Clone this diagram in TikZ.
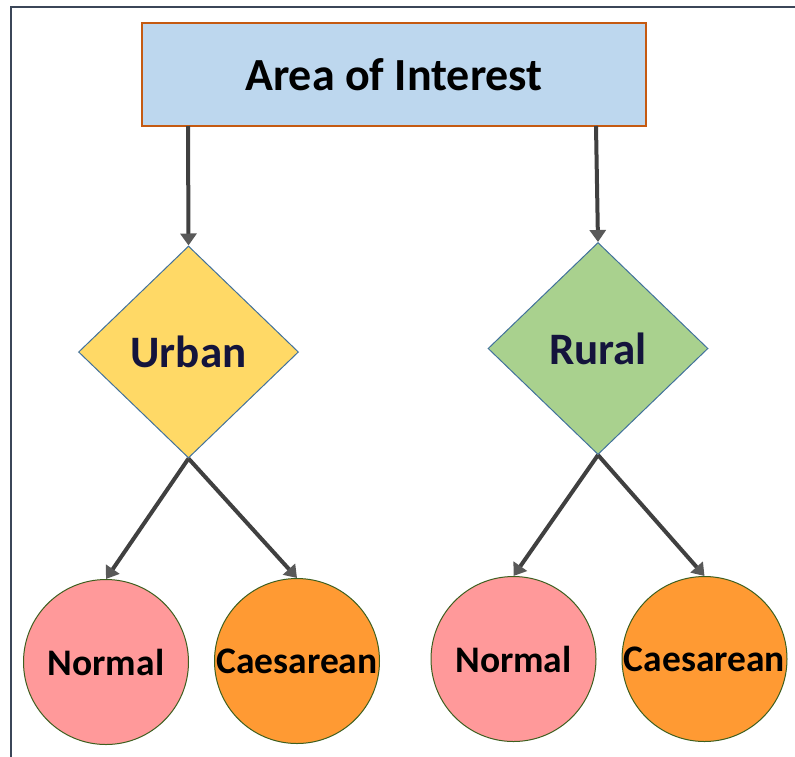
\documentclass[tikz,border=0pt]{standalone}
\usepackage{fontspec}
\setmainfont{Carlito}
\usetikzlibrary{shapes.geometric,arrows.meta}
\definecolor{frameC}{HTML}{3B4658}
\definecolor{boxFill}{HTML}{BDD7EE}
\definecolor{boxLine}{HTML}{C55A11}
\definecolor{yel}{HTML}{FFD966}
\definecolor{grn}{HTML}{A9D18E}
\definecolor{dmLine}{HTML}{41719C}
\definecolor{pinkC}{HTML}{FF999A}
\definecolor{orC}{HTML}{FF9A33}
\definecolor{cirLine}{HTML}{3D5F1F}
\definecolor{navy}{HTML}{14143C}
\definecolor{arr}{HTML}{404040}
\definecolor{arrHead}{HTML}{595959}
\tikzset{
  topbox/.style={draw=boxLine, line width=1.5pt, fill=boxFill, minimum width=504pt, minimum height=103pt, inner sep=0pt, font=\fontsize{46}{50}\selectfont\bfseries},
  dia/.style={diamond, draw=dmLine, line width=1pt, inner sep=0pt, minimum width=220pt, minimum height=212pt, font=\fontsize{45}{50}\selectfont\bfseries, text=navy},
  circ/.style={circle, draw=cirLine, line width=1pt, inner sep=0pt, minimum size=165pt, font=\fontsize{37.5}{40}\selectfont\bfseries},
  conn/.style={draw=arr, line width=4pt, -{Triangle[length=12pt,width=16pt,fill=arrHead,color=arrHead]}, shorten >=0pt}
}
\begin{document}
\begin{tikzpicture}[x=1pt,y=-1pt]
\useasboundingbox (0,0) rectangle (795,756);
\draw[frameC, line width=2pt] (11,760) -- (11,7) -- (800,7);
\node[topbox] (aoi) at (394,74.5) {Area of Interest};
\node[dia, fill=yel] (urban) at (188.5,352) {Urban};
\node[dia, fill=grn] (rural) at (598,348.5) {Rural};
\node[circ, fill=pinkC] (n1) at (106,662) {Normal};
\node[circ, fill=orC] (c1) at (297,661) {Caesarean};
\node[circ, fill=pinkC] (n2) at (513.5,659) {Normal};
\node[circ, fill=orC] (c2) at (704.5,659) {Caesarean};
\coordinate (a1) at (188,126);
\coordinate (a2) at (596,126);
\draw[conn] (a1) -- (urban.north);
\draw[conn] (a2) -- (rural.north);
\draw[conn] (urban.south) -- (n1.north);
\draw[conn] (urban.south) -- (c1.north);
\draw[conn] (rural.south) -- (n2.north);
\draw[conn] (rural.south) -- (c2.north);
\end{tikzpicture}
\end{document}
